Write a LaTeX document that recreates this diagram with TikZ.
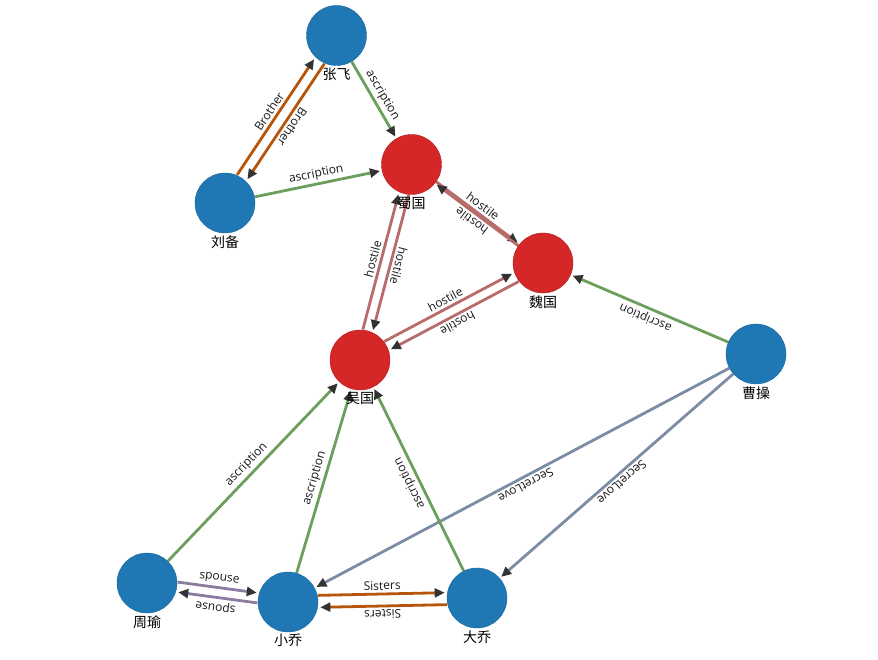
\documentclass[tikz,border=0pt]{standalone}
\usepackage{fontspec}
\setmainfont{Open Sans}
\newfontfamily\cjk{Noto Sans CJK SC}
\usetikzlibrary{arrows.meta,calc,backgrounds}

\definecolor{personBlue}{HTML}{1F77B4}
\definecolor{stateRed}{HTML}{D62728}
\definecolor{belongGreen}{HTML}{6B9F5B}
\definecolor{kinOrange}{HTML}{B5560C}
\definecolor{enemyRose}{HTML}{B86B6B}
\definecolor{coupleViolet}{HTML}{8C7DA0}
\definecolor{secretSlate}{HTML}{7D8CA5}
\definecolor{tipGray}{HTML}{333333}

\tikzset{
    person/.style={circle, draw=personBlue!85!black, line width=0.4pt, fill=personBlue, minimum size=60pt, inner sep=0pt},
    state/.style={circle, draw=stateRed!80!black, line width=0.4pt, fill=stateRed, minimum size=60pt, inner sep=0pt},
    namelabel/.style={font=\cjk\fontsize{14}{16}\selectfont, text=black, inner sep=2pt},
    rellabel/.style={font=\fontsize{12}{14}\selectfont, text=black!90, anchor=south, inner sep=2.5pt},
    rel/.style={line width=2.8pt, -{Triangle[length=10pt, width=9pt, color=tipGray]}, shorten >=2pt},
    belong/.style={rel, draw=belongGreen},
    kin/.style={rel, draw=kinOrange},
    enemy/.style={rel, draw=enemyRose},
    couple/.style={rel, draw=coupleViolet},
    secret/.style={rel, draw=secretSlate}
}

% [offset] style from to text
\newcommand{\relation}[5][0pt]{%
  \pgfmathanglebetweenpoints{\pgfpointanchor{#3}{center}}{\pgfpointanchor{#4}{center}}%
  \let\relangle\pgfmathresult
  \begin{scope}[transform canvas={shift={(\relangle+90:#1)}}]
    \draw[#2] (#3) -- node[rellabel, rotate=\relangle] {#5} (#4);
  \end{scope}
}

\begin{document}
\begin{tikzpicture}[x=1pt, y=-1pt]
    \useasboundingbox (0,0) rectangle (878,660);

    % people
    \node[person, label={[namelabel]below:张飞}] (zhangfei) at (336.5,35.5) {};
    \node[person, label={[namelabel]below:刘备}] (liubei) at (225,203) {};
    \node[person, label={[namelabel]below:曹操}] (caocao) at (756,354) {};
    \node[person, label={[namelabel]below:周瑜}] (zhouyu) at (147,583) {};
    \node[person, label={[namelabel]below:小乔}] (xiaoqiao) at (288,602) {};
    \node[person, label={[namelabel]below:大乔}] (daqiao) at (477,598) {};

    % kingdoms
    \node[state, label={[namelabel]below:蜀国}] (shu) at (411.5,164.5) {};
    \node[state, label={[namelabel]below:魏国}] (wei) at (543,263) {};
    \node[state, label={[namelabel]below:吴国}] (wu) at (360,360) {};

    \begin{scope}[on background layer]
    \relation[5.5pt]{kin}{liubei}{zhangfei}{Brother}
    \relation[5.5pt]{kin}{zhangfei}{liubei}{Brother}
    \relation{belong}{zhangfei}{shu}{ascription}
    \relation{belong}{liubei}{shu}{ascription}

    \relation[1pt]{enemy}{shu}{wei}{hostile}
    \relation[1pt]{enemy}{wei}{shu}{hostile}
    \relation[5pt]{enemy}{shu}{wu}{hostile}
    \relation[5pt]{enemy}{wu}{shu}{hostile}
    \relation[5pt]{enemy}{wu}{wei}{hostile}
    \relation[5pt]{enemy}{wei}{wu}{hostile}

    \relation{belong}{caocao}{wei}{ascription}
    \relation{secret}{caocao}{xiaoqiao}{SecretLove}
    \relation{secret}{caocao}{daqiao}{SecretLove}

    \relation{belong}{zhouyu}{wu}{ascription}
    \relation{belong}{xiaoqiao}{wu}{ascription}
    \relation{belong}{daqiao}{wu}{ascription}

    \relation[5pt]{couple}{zhouyu}{xiaoqiao}{spouse}
    \relation[5pt]{couple}{xiaoqiao}{zhouyu}{spouse}
    \relation[6pt]{kin}{xiaoqiao}{daqiao}{Sisters}
    \relation[6pt]{kin}{daqiao}{xiaoqiao}{Sisters}
    \end{scope}
\end{tikzpicture}
\end{document}
